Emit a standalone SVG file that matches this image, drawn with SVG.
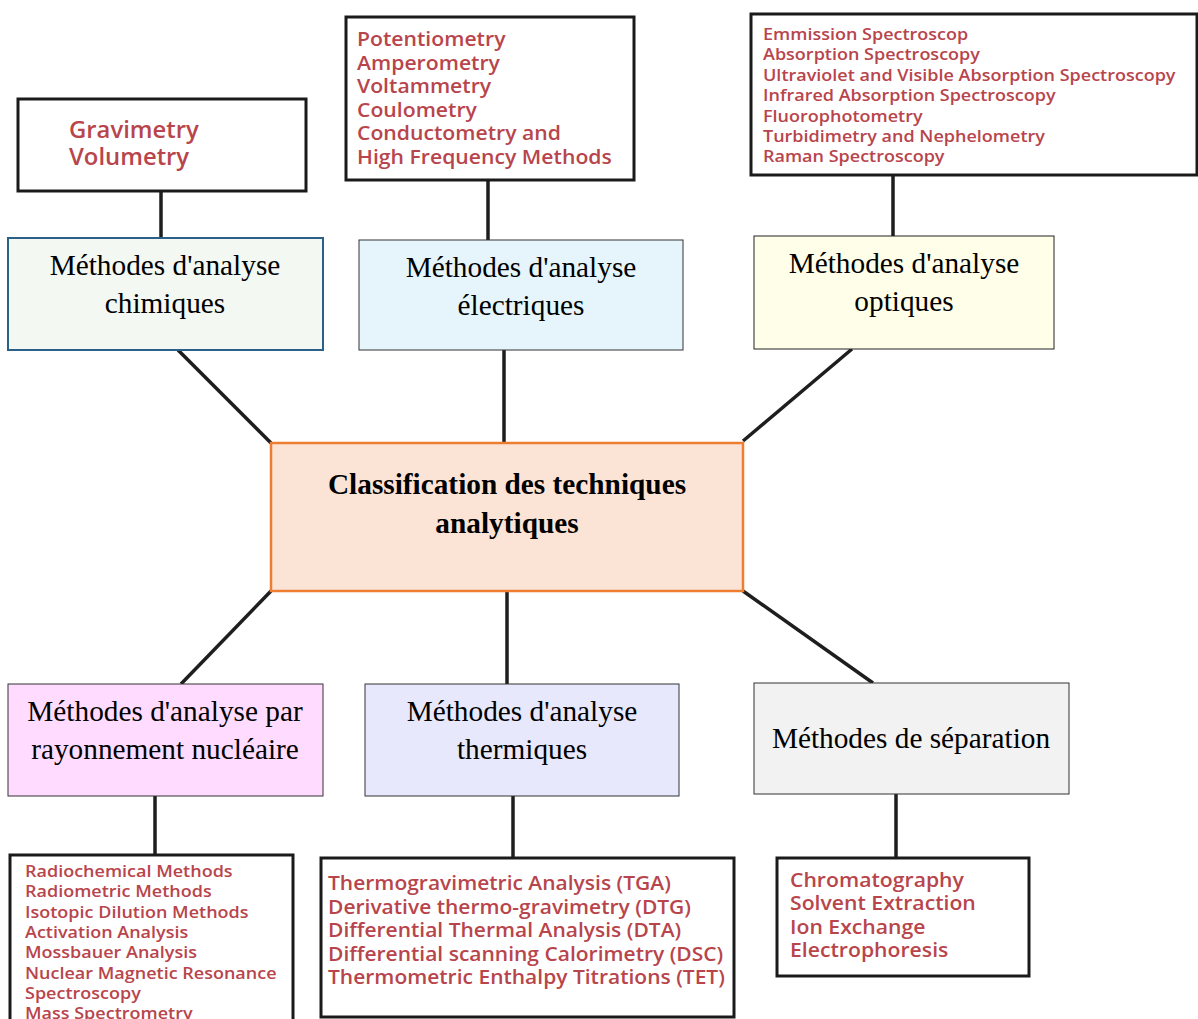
<svg xmlns="http://www.w3.org/2000/svg" width="1198" height="1019" viewBox="0 0 1198 1019">
<style>
.list{fill:#fff;stroke:#1a1a1a;stroke-width:3}
.item{font-family:"Open Sans","Noto Sans",sans-serif;font-weight:600;fill:#b8454c}
.cat{font-family:"Liberation Serif","Times New Roman",serif;font-size:29.3px;fill:#000;text-anchor:middle}
.title{font-family:"Liberation Serif","Times New Roman",serif;font-size:29.3px;font-weight:bold;fill:#000;text-anchor:middle}
.conn line{stroke:#1e1e1e;stroke-width:3.5}
</style>
<rect width="1198" height="1019" fill="#fff"/>
<g id="connectors" class="conn">
<line x1="161" y1="191" x2="161" y2="238"/>
<line x1="488" y1="180" x2="488" y2="240"/>
<line x1="893" y1="175" x2="893" y2="236"/>
<line x1="178" y1="350" x2="271" y2="443"/>
<line x1="504" y1="350" x2="504" y2="443"/>
<line x1="852" y1="349" x2="743" y2="441"/>
<line x1="271" y1="591" x2="181" y2="684"/>
<line x1="507" y1="591" x2="507" y2="684"/>
<line x1="743" y1="591" x2="873" y2="683"/>
<line x1="155" y1="796" x2="155" y2="855"/>
<line x1="513" y1="796" x2="513" y2="858"/>
<line x1="896" y1="794" x2="896" y2="858"/>
</g>
<g id="list-chimiques">
<rect class="list" x="18" y="99" width="288" height="92"/>
<text class="item" font-size="22.5" transform="matrix(1.06 0 0 1 -4.14 0)"><tspan x="69" y="138">Gravimetry</tspan><tspan x="69" y="165">Volumetry</tspan></text>
</g>
<g id="list-electriques">
<rect class="list" x="346" y="17" width="288" height="163"/>
<text class="item" font-size="20" transform="matrix(1.06 0 0 1 -21.42 0)"><tspan x="357" y="46">Potentiometry</tspan><tspan x="357" y="70">Amperometry</tspan><tspan x="357" y="93">Voltammetry</tspan><tspan x="357" y="117">Coulometry</tspan><tspan x="357" y="140">Conductometry and</tspan><tspan x="357" y="164">High Frequency Methods</tspan></text>
</g>
<g id="list-optiques">
<rect class="list" x="751" y="14" width="446" height="161"/>
<text class="item" font-size="17" transform="matrix(1.06 0 0 1 -45.78 0)"><tspan x="763" y="40">Emmission Spectroscop</tspan><tspan x="763" y="60">Absorption Spectroscopy</tspan><tspan x="763" y="81">Ultraviolet and Visible Absorption Spectroscopy</tspan><tspan x="763" y="101">Infrared Absorption Spectroscopy</tspan><tspan x="763" y="122">Fluorophotometry</tspan><tspan x="763" y="142">Turbidimetry and Nephelometry</tspan><tspan x="763" y="162">Raman Spectroscopy</tspan></text>
</g>
<g id="chimiques">
<rect x="8" y="238" width="315" height="112" fill="#f3f8f3" stroke="#2b6088" stroke-width="2"/>
<text class="cat"><tspan x="165" y="275">Méthodes d'analyse</tspan><tspan x="165" y="313">chimiques</tspan></text>
</g>
<g id="electriques">
<rect x="359" y="240" width="324" height="110" fill="#e6f5fb" stroke="#333" stroke-width="1"/>
<text class="cat"><tspan x="521" y="277">Méthodes d'analyse</tspan><tspan x="521" y="315">électriques</tspan></text>
</g>
<g id="optiques">
<rect x="754" y="236" width="300" height="113" fill="#ffffe9" stroke="#222" stroke-width="1"/>
<text class="cat"><tspan x="904" y="273">Méthodes d'analyse</tspan><tspan x="904" y="311">optiques</tspan></text>
</g>
<g id="classification">
<rect x="271" y="443" width="472" height="148" fill="#fbe4d6" stroke="#ed7d31" stroke-width="2.5"/>
<text class="title"><tspan x="507" y="494">Classification des techniques</tspan><tspan x="507" y="533">analytiques</tspan></text>
</g>
<g id="nucleaire">
<rect x="8" y="684" width="315" height="112" fill="#ffdcff" stroke="#333" stroke-width="1"/>
<text class="cat"><tspan x="165" y="721">Méthodes d'analyse par</tspan><tspan x="165" y="759">rayonnement nucléaire</tspan></text>
</g>
<g id="thermiques">
<rect x="365" y="684" width="314" height="112" fill="#e8e8fc" stroke="#333" stroke-width="1"/>
<text class="cat"><tspan x="522" y="721">Méthodes d'analyse</tspan><tspan x="522" y="759">thermiques</tspan></text>
</g>
<g id="separation">
<rect x="754" y="683" width="315" height="111" fill="#f2f2f2" stroke="#333" stroke-width="1"/>
<text class="cat" x="911" y="748">Méthodes de séparation</text>
</g>
<g id="list-nucleaire">
<rect class="list" x="10" y="855" width="283" height="180"/>
<text class="item" font-size="17" transform="matrix(1.06 0 0 1 -1.5 0)"><tspan x="25" y="877">Radiochemical Methods</tspan><tspan x="25" y="897">Radiometric Methods</tspan><tspan x="25" y="918">Isotopic Dilution Methods</tspan><tspan x="25" y="938">Activation Analysis</tspan><tspan x="25" y="958">Mossbauer Analysis</tspan><tspan x="25" y="979">Nuclear Magnetic Resonance</tspan><tspan x="25" y="999">Spectroscopy</tspan><tspan x="25" y="1019">Mass Spectrometry</tspan></text>
</g>
<g id="list-thermiques">
<rect class="list" x="321" y="858" width="413" height="159"/>
<text class="item" font-size="20" transform="matrix(1.05 0 0 1 -16.4 0)"><tspan x="328" y="890">Thermogravimetric Analysis (TGA)</tspan><tspan x="328" y="914">Derivative thermo-gravimetry (DTG)</tspan><tspan x="328" y="937">Differential Thermal Analysis (DTA)</tspan><tspan x="328" y="961">Differential scanning Calorimetry (DSC)</tspan><tspan x="328" y="984">Thermometric Enthalpy Titrations (TET)</tspan></text>
</g>
<g id="list-separation">
<rect class="list" x="777" y="858" width="252" height="118"/>
<text class="item" font-size="20" transform="matrix(1.06 0 0 1 -47.4 0)"><tspan x="790" y="887">Chromatography</tspan><tspan x="790" y="910">Solvent Extraction</tspan><tspan x="790" y="934">Ion Exchange</tspan><tspan x="790" y="957">Electrophoresis</tspan></text>
</g>
</svg>
